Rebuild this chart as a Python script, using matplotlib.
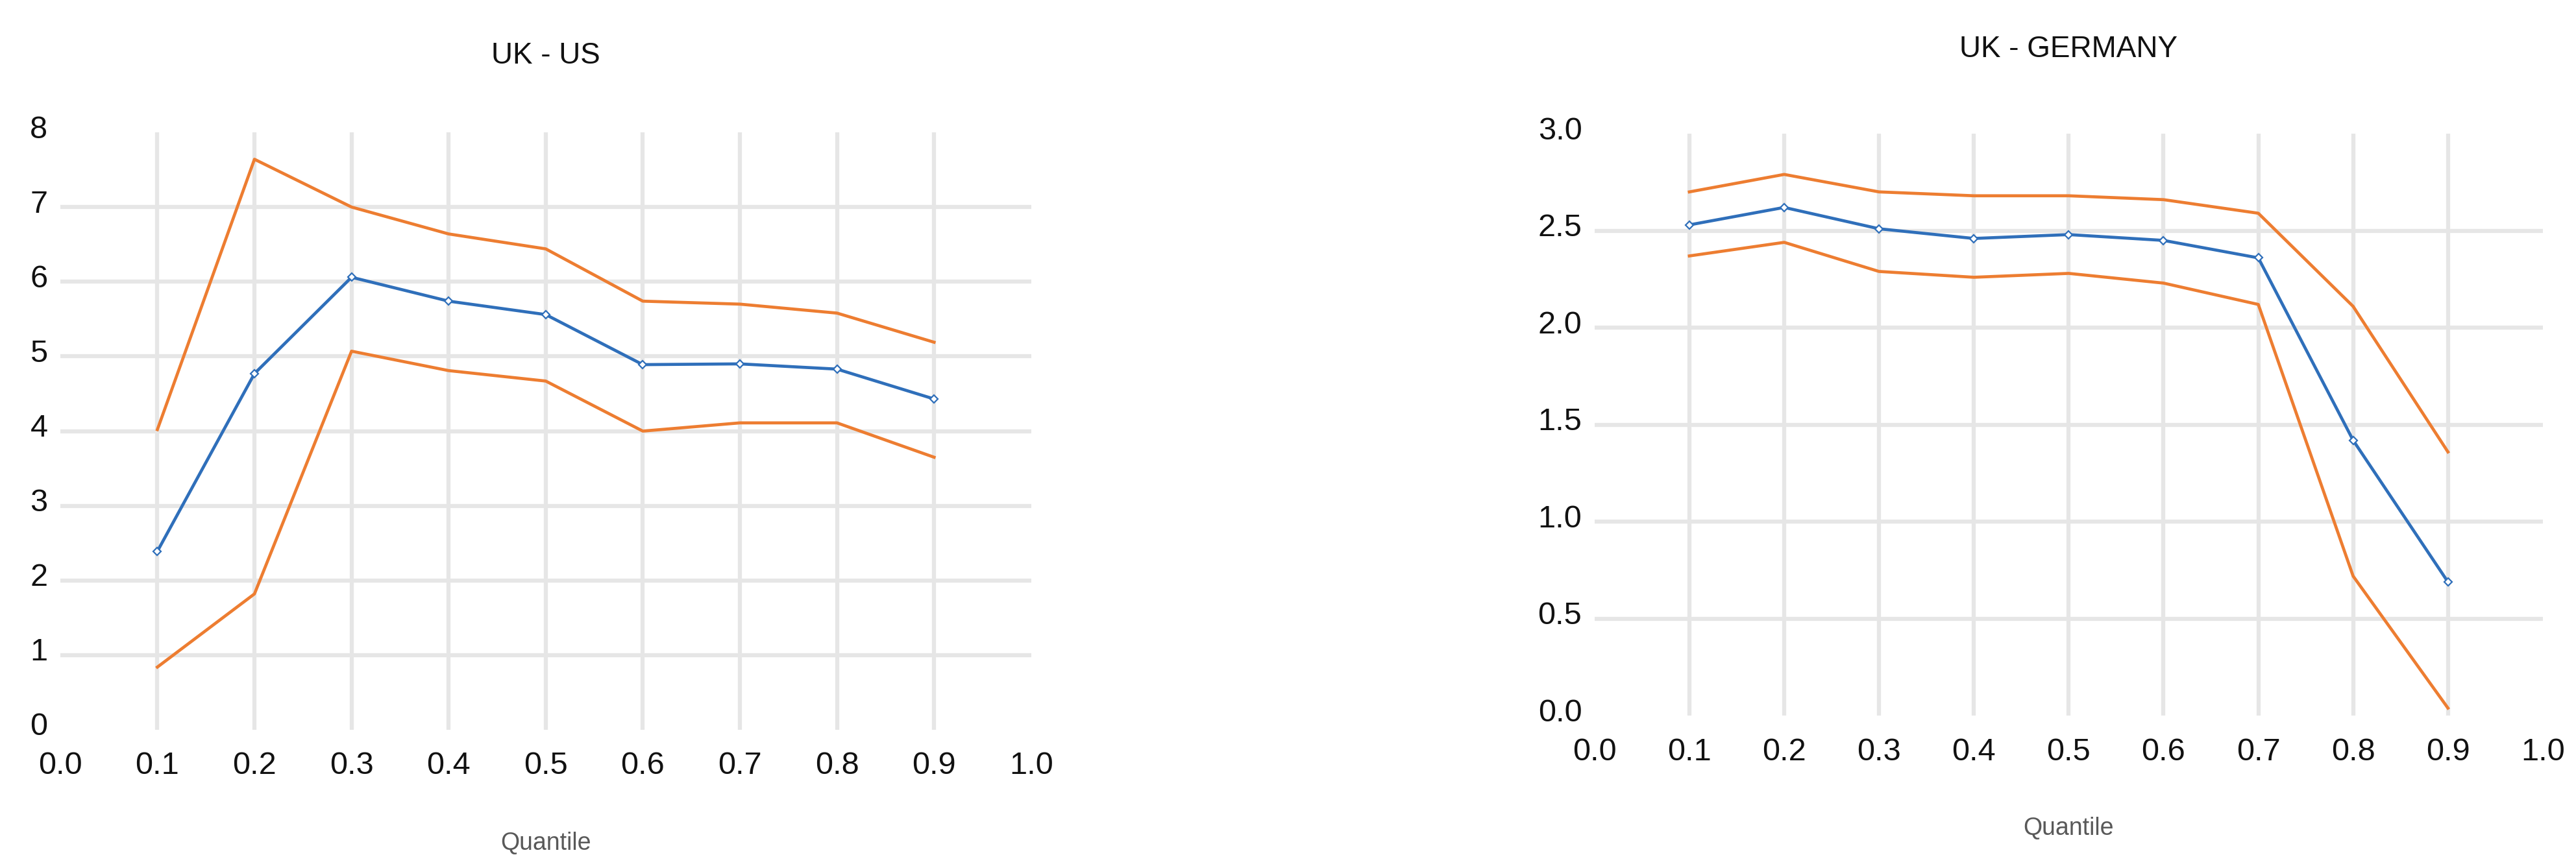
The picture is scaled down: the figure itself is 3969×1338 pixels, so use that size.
import matplotlib
matplotlib.use("Agg")
from matplotlib import pyplot as plt
from matplotlib.transforms import ScaledTranslation

plt.rcParams['font.family'] = ['Liberation Sans', 'DejaVu Sans']

quantiles = [0.1, 0.2, 0.3, 0.4, 0.5, 0.6, 0.7, 0.8, 0.9]
x_ticks = [0.0, 0.1, 0.2, 0.3, 0.4, 0.5, 0.6, 0.7, 0.8, 0.9, 1.0]

# UK - US
us_upper = [4.02, 7.64, 7.00, 6.64, 6.44, 5.74, 5.70, 5.58, 5.19]
us_coef = [2.39, 4.77, 6.06, 5.74, 5.56, 4.89, 4.90, 4.83, 4.43]
us_lower = [0.84, 1.82, 5.07, 4.81, 4.67, 4.00, 4.11, 4.11, 3.65]
us_yticks = [0, 1, 2, 3, 4, 5, 6, 7, 8]

# UK - GERMANY
de_upper = [2.70, 2.79, 2.70, 2.68, 2.68, 2.66, 2.59, 2.11, 1.36]
de_coef = [2.53, 2.62, 2.51, 2.46, 2.48, 2.45, 2.36, 1.42, 0.69]
de_lower = [2.37, 2.44, 2.29, 2.26, 2.28, 2.23, 2.12, 0.72, 0.04]
de_yticks = [0.0, 0.5, 1.0, 1.5, 2.0, 2.5, 3.0]

blue = '#2f6fba'
orange = '#ed7d31'
grid_col = '#e6e6e6'

fig = plt.figure(figsize=(39.69, 13.38), dpi=100)
ax1 = fig.add_axes([0.0234, 0.1592, 0.3769, 0.6883])
ax2 = fig.add_axes([0.6190, 0.1753, 0.3681, 0.6707])


def draw_panel(ax, title, upper, coef, lower, yticks, ylabels, title_y, label_y):
    for v in yticks[1:-1]:
        ax.axhline(v, color=grid_col, lw=4.5, zorder=0)
    for v in x_ticks[1:-1]:
        ax.axvline(v, color=grid_col, lw=4.5, zorder=0)
    ax.plot(quantiles, upper, color=orange, lw=3.4, zorder=2)
    ax.plot(quantiles, lower, color=orange, lw=3.4, zorder=2)
    ax.plot(quantiles, coef, color=blue, lw=3.4, marker='D', markersize=6,
            markerfacecolor='white', markeredgecolor=blue, markeredgewidth=1.6, zorder=3)
    ax.set_xlim(0, 1)
    ax.set_ylim(yticks[0], yticks[-1])
    ax.set_xticks(x_ticks)
    ax.set_xticklabels([f"{v:.1f}" for v in x_ticks])
    ax.set_yticks(yticks)
    ax.set_yticklabels(ylabels)
    for s in ax.spines.values():
        s.set_visible(False)
    ax.tick_params(length=0, labelsize=35, colors='#111111')
    ax.tick_params(axis='x', pad=24)
    ax.tick_params(axis='y', pad=14)
    # labels sit slightly above the gridlines in the original
    for lab in ax.get_yticklabels():
        lab.set_transform(lab.get_transform() + ScaledTranslation(0, 0.09, fig.dpi_scale_trans))
    ax.set_title(title, fontsize=33, y=title_y, pad=0, va='center', color='#111111')
    ax.set_xlabel('Quantile', fontsize=27, color='#595959', va='center')
    ax.xaxis.set_label_coords(0.5, label_y)


draw_panel(ax1, 'UK - US', us_upper, us_coef, us_lower, us_yticks,
           [str(v) for v in us_yticks], 1.128, -0.19)
draw_panel(ax2, 'UK - GERMANY', de_upper, de_coef, de_lower, de_yticks,
           [f"{v:.1f}" for v in de_yticks], 1.145, -0.193)

fig.savefig('out.png', dpi=100, facecolor='white')
